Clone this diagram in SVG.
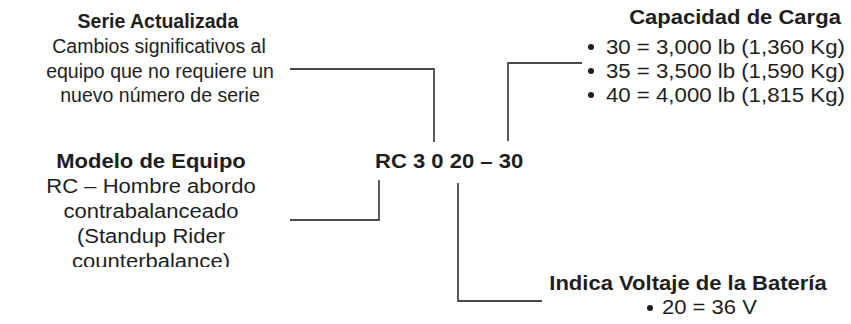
<svg xmlns="http://www.w3.org/2000/svg" width="851" height="324" viewBox="0 0 851 324">
<defs>
<style>
text{font-family:"Liberation Sans",Arial,Helvetica,sans-serif;font-size:19.5px;fill:#1e1e1e}
.h{font-weight:bold}
.c{text-anchor:middle}
.conn{fill:none;stroke:#4a4a4a;stroke-width:1.8}
.dot{fill:#1e1e1e}
</style>
<clipPath id="clipModelo"><rect x="0" y="0" width="851" height="267"/></clipPath>
</defs>
<rect width="851" height="324" fill="#ffffff"/>
<g id="connectors">
<path class="conn" d="M290,69 H434 V142"/>
<path class="conn" d="M582,63 H508 V141"/>
<path class="conn" d="M290,220 H379 V180"/>
<path class="conn" d="M458,183 V301 H542"/>
</g>
<g id="serie">
<text class="h c" x="158" y="28">Serie Actualizada</text>
<text class="c" x="159" y="53">Cambios significativos al</text>
<text class="c" x="160" y="78">equipo que no requiere un</text>
<text class="c" x="160" y="102">nuevo número de serie</text>
</g>
<g id="capacidad">
<g transform="translate(735,0) scale(1.13,1)">
<text class="h c" x="0" y="24">Capacidad de Carga</text>
</g>
<circle class="dot" cx="591" cy="47" r="3"/>
<circle class="dot" cx="591" cy="71" r="3"/>
<circle class="dot" cx="591" cy="95" r="3"/>
<g transform="translate(606,0) scale(1.14,1)">
<text x="0" y="54">30 = 3,000 lb (1,360 Kg)</text>
<text x="0" y="78">35 = 3,500 lb (1,590 Kg)</text>
<text x="0" y="102">40 = 4,000 lb (1,815 Kg)</text>
</g>
</g>
<g id="codigo" transform="translate(375,0) scale(1.13,1)">
<text class="h" x="0" y="168">RC 3 0 20 – 30</text>
</g>
<g id="modelo" clip-path="url(#clipModelo)">
<g transform="translate(151,0) scale(1.13,1)">
<text class="h c" x="0" y="168">Modelo de Equipo</text>
<text class="c" x="0" y="193">RC – Hombre abordo</text>
<text class="c" x="0" y="218">contrabalanceado</text>
<text class="c" x="0" y="243">(Standup Rider</text>
<text class="c" x="0" y="268">counterbalance)</text>
</g>
</g>
<g id="bateria">
<g transform="translate(688,0) scale(1.13,1)">
<text class="h c" x="0" y="290">Indica Voltaje de la Batería</text>
</g>
<circle class="dot" cx="650" cy="308" r="3"/>
<g transform="translate(662,0) scale(1.13,1)">
<text x="0" y="314">20 = 36 V</text>
</g>
</g>
</svg>
